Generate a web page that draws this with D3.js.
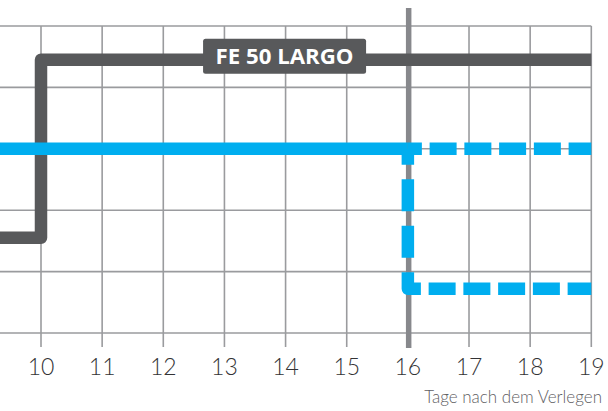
<!DOCTYPE html>
<html>
<head>
<meta charset="utf-8">
<script src="https://cdn.jsdelivr.net/npm/d3@7"></script>
<style>
  body { margin: 0; background: #fff; }
  svg { display: block; }
</style>
</head>
<body>
<div id="chart"></div>
<script>
// days on the x axis and grid levels
const dayTicks = [10, 11, 12, 13, 14, 15, 16, 17, 18, 19];
const gridLevels = [0, 1, 2, 3, 4, 5];
const markerDay = 16;

// FE 50 LARGO (grey step line)
const largoDays = [9, 10, 10, 19];
const largoValues = [1.55, 1.55, 4.45, 4.45];
const largoLabel = "FE 50 LARGO";
const largoLabelDay = 14;

// blue line: solid part, then dashed continuation and dashed drop
const blueDays = [9, 16];
const blueValues = [3, 3];
const blueUpperDays = [16, 19];
const blueUpperValues = [3, 3];
const blueLowerDays = [16, 16, 19];
const blueLowerValues = [3, 0.72, 0.72];

const axisTitle = "Tage nach dem Verlegen";

const width = 608;
const height = 411;

const x = d3.scaleLinear().domain([10, 19]).range([41, 591.3]);
const y = d3.scaleLinear().domain([0, 5]).range([333, 26]);

const svg = d3.select("#chart")
  .append("svg")
  .attr("width", width)
  .attr("height", height);

const line = d3.line()
  .x(d => x(d[0]))
  .y(d => y(d[1]));

const gridColor = "#9a9b9e";

// horizontal grid
svg.selectAll(".hgrid")
  .data(gridLevels)
  .enter()
  .append("line")
  .attr("x1", 0)
  .attr("x2", x(19))
  .attr("y1", d => y(d))
  .attr("y2", d => y(d))
  .attr("stroke", gridColor)
  .attr("stroke-width", 1.6);

// vertical grid, running a bit below the last line as ticks
svg.selectAll(".vgrid")
  .data([9].concat(dayTicks))
  .enter()
  .append("line")
  .attr("x1", d => x(d))
  .attr("x2", d => x(d))
  .attr("y1", y(5))
  .attr("y2", y(0) + 14)
  .attr("stroke", gridColor)
  .attr("stroke-width", 1.6);

// marker at day 16
svg.append("line")
  .attr("x1", x(markerDay) + 0.8)
  .attr("x2", x(markerDay) + 0.8)
  .attr("y1", 8)
  .attr("y2", y(0) + 15)
  .attr("stroke", "#87888c")
  .attr("stroke-width", 5.5);

// grey step line
svg.append("path")
  .attr("d", line(d3.zip(largoDays, largoValues)))
  .attr("fill", "none")
  .attr("stroke", "#58595b")
  .attr("stroke-width", 12.5)
  .attr("stroke-linejoin", "round");

// label box
const lx = x(largoLabelDay) - 1;
const ly = y(largoValues[3]);
svg.append("rect")
  .attr("x", lx - 81.5)
  .attr("y", ly - 21)
  .attr("width", 163)
  .attr("height", 35)
  .attr("rx", 2.5)
  .attr("fill", "#58595b");

svg.append("text")
  .attr("x", lx)
  .attr("y", ly + 3.8)
  .attr("text-anchor", "middle")
  .attr("font-family", "'Open Sans', Lato, sans-serif")
  .attr("font-weight", "bold")
  .attr("font-size", 21)
  .attr("fill", "#fff")
  .attr("textLength", 138)
  .attr("lengthAdjust", "spacingAndGlyphs")
  .text(largoLabel);

const blue = "#00aeef";

// solid blue
svg.append("path")
  .attr("d", line(d3.zip(blueDays, blueValues)))
  .attr("fill", "none")
  .attr("stroke", blue)
  .attr("stroke-width", 12.5);

// dashed continuation at the same level
svg.append("path")
  .attr("d", line(d3.zip(blueUpperDays, blueUpperValues)))
  .attr("fill", "none")
  .attr("stroke", blue)
  .attr("stroke-width", 12.5)
  .attr("stroke-dasharray", "27 7.75")
  .attr("stroke-dashoffset", 13);

// dashed drop, dashes fitted to the corner
svg.append("path")
  .attr("d", line(d3.zip(blueLowerDays, blueLowerValues)))
  .attr("fill", "none")
  .attr("stroke", blue)
  .attr("stroke-width", 12.5)
  .attr("stroke-linejoin", "round")
  .attr("stroke-dasharray", "16 14.5 32 14.5 32 14.5 29.5 7.75 27 7.75 27 7.75 27 7.75 27 7.75 27 7.75 27 7.75");

// tick labels
svg.selectAll(".tick")
  .data(dayTicks)
  .enter()
  .append("text")
  .attr("x", d => x(d))
  .attr("y", 375)
  .attr("text-anchor", "middle")
  .attr("font-family", "Lato, 'Open Sans', sans-serif")
  .attr("font-weight", 300)
  .attr("font-size", 23)
  .attr("fill", "#333335")
  .text(d => d);

svg.append("text")
  .attr("x", 602)
  .attr("y", 402.5)
  .attr("text-anchor", "end")
  .attr("font-family", "Lato, 'Open Sans', sans-serif")
  .attr("font-weight", 300)
  .attr("font-size", 17)
  .attr("fill", "#5f6063")
  .text(axisTitle);
</script>
</body>
</html>
